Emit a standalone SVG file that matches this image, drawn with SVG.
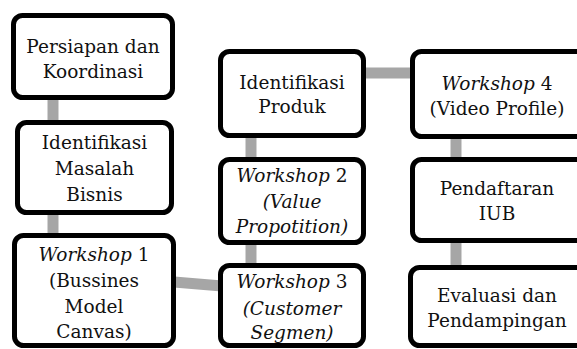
<svg xmlns="http://www.w3.org/2000/svg" width="577" height="349" viewBox="0 0 577 349">
<style>
.box{fill:#fff;stroke:#000;stroke-width:5}
.c{stroke:#a6a6a6;stroke-width:11;fill:none}
.t text{font-family:'DejaVu Serif',serif;font-size:18.5px;fill:#111;text-anchor:middle}
.i{font-style:italic}
</style>
<rect width="577" height="349" fill="#fff"/>
<g id="connectors">
<line class="c" x1="53" y1="98" x2="53" y2="124"/>
<line class="c" x1="53" y1="212" x2="53" y2="237"/>
<line class="c" x1="174" y1="282" x2="222" y2="286"/>
<line class="c" x1="251" y1="135" x2="251" y2="161"/>
<line class="c" x1="251" y1="242" x2="251" y2="267"/>
<line class="c" x1="362" y1="73" x2="414" y2="73"/>
<line class="c" x1="456" y1="136" x2="456" y2="161"/>
<line class="c" x1="456" y1="240" x2="456" y2="269"/>
</g>
<g class="t">
<g id="n1"><rect class="box" x="13.5" y="15.5" width="159" height="82" rx="9"/>
<text x="93" y="53">Persiapan dan</text><text x="93" y="78">Koordinasi</text></g>
<g id="n2"><rect class="box" x="17.5" y="122.5" width="154" height="90" rx="9"/>
<text x="94.5" y="149">Identifikasi</text><text x="94.5" y="175">Masalah</text><text x="94.5" y="201">Bisnis</text></g>
<g id="n3"><rect class="box" x="14.5" y="235.5" width="159" height="110" rx="9"/>
<text x="94" y="261"><tspan class="i">Workshop</tspan> 1</text><text x="94" y="287">(Bussines</text><text x="94" y="313">Model</text><text x="94" y="338">Canvas)</text></g>
<g id="n4"><rect class="box" x="220.5" y="51.5" width="143" height="84" rx="9"/>
<text x="292" y="89">Identifikasi</text><text x="292" y="113">Produk</text></g>
<g id="n5"><rect class="box" x="220.5" y="159.5" width="143" height="83" rx="9"/>
<text x="292" y="182"><tspan class="i">Workshop</tspan> 2</text><text x="292" y="208" class="i">(Value</text><text x="292" y="233" class="i">Propotition)</text></g>
<g id="n6"><rect class="box" x="220.5" y="265.5" width="143" height="80" rx="9"/>
<text x="292" y="288"><tspan class="i">Workshop</tspan> 3</text><text x="292" y="315" class="i">(Customer</text><text x="292" y="339" class="i">Segmen)</text></g>
<g id="n7"><rect class="box" x="412.5" y="51.5" width="175" height="85" rx="9"/>
<text x="497" y="90"><tspan class="i">Workshop</tspan> 4</text><text x="497" y="115">(Video Profile)</text></g>
<g id="n8"><rect class="box" x="412.5" y="159.5" width="175" height="81" rx="9"/>
<text x="497" y="195">Pendaftaran</text><text x="497" y="220">IUB</text></g>
<g id="n9"><rect class="box" x="410.5" y="267.5" width="177" height="78" rx="9"/>
<text x="497" y="302">Evaluasi dan</text><text x="497" y="327">Pendampingan</text></g>
</g>
</svg>
